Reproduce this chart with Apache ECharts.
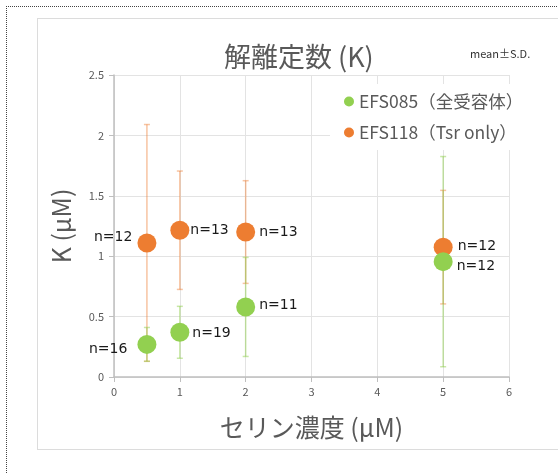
<!DOCTYPE html>
<html>
<head>
<meta charset="utf-8">
<script src="https://cdn.jsdelivr.net/npm/echarts@6/dist/echarts.min.js"></script>
<style>
  html, body { margin: 0; padding: 0; background: #fff; }
  #wrap { position: relative; width: 558px; height: 474px; overflow: hidden; }
  #outer { position: absolute; left: 6px; top: 6px; width: 600px; height: 520px;
           border-left: 1px dotted #444; border-top: 1px dotted #444; }
  #frame { position: absolute; left: 37px; top: 18px; width: 540px; height: 430px;
           border: 1px solid #dcdcdc; background: #fff; }
  #chart { position: absolute; left: 0; top: 0; width: 558px; height: 474px; }
</style>
</head>
<body>
<div id="wrap">
  <div id="outer"></div>
  <div id="frame"></div>
  <div id="chart"></div>
</div>
<script>
// Serine concentration (µM) and dissociation constant K (µM), mean ± S.D.
const concentrations = [0.5, 1, 2, 5];
const efs085Mean = [0.27, 0.37, 0.58, 0.955];
const efs085SD   = [0.14, 0.215, 0.41, 0.87];
const efs085N    = [16, 19, 11, 12];
const efs118Mean = [1.11, 1.215, 1.20, 1.075];
const efs118SD   = [0.98, 0.49, 0.425, 0.47];
const efs118N    = [12, 13, 13, 12];
const xTicks = [0, 1, 2, 3, 4, 5, 6];
const yTicks = [0, 0.5, 1, 1.5, 2, 2.5];

const GREEN = '#92D050';
const ORANGE = '#ED7D31';
const FONT = '"Noto Sans CJK JP", "Noto Sans", sans-serif';
const LABEL_FONT = '"DejaVu Sans", sans-serif';

// where each "n=" label sits next to its marker
const labelPlace085 = [
  { position: 'left',  distance: 10, offset: [0, 5] },
  { position: 'right', distance: 3,  offset: [0, 1] },
  { position: 'right', distance: 4,  offset: [0, -2] },
  { position: 'right', distance: 4,  offset: [0, 5] }
];
const labelPlace118 = [
  { position: 'left',  distance: 5, offset: [0, -6] },
  { position: 'right', distance: 1, offset: [0, 0] },
  { position: 'right', distance: 4, offset: [0, 0] },
  { position: 'right', distance: 5, offset: [0, -1] }
];

function points(means, ns, places) {
  return concentrations.map((x, i) => ({
    value: [x, means[i]],
    label: Object.assign({ show: true, formatter: 'n=' + ns[i] }, places[i])
  }));
}

function ranges(means, sds) {
  return concentrations.map((x, i) => [x, means[i] - sds[i], means[i] + sds[i]]);
}

function errorBars(color) {
  return function (params, api) {
    const x = api.value(0);
    const top = api.coord([x, api.value(2)]);
    const bot = api.coord([x, api.value(1)]);
    const w = 3;
    const style = { stroke: color, lineWidth: 1.5 };
    return {
      type: 'group',
      children: [
        { type: 'line', shape: { x1: top[0], y1: top[1], x2: bot[0], y2: bot[1] }, style: style },
        { type: 'line', shape: { x1: top[0] - w, y1: top[1], x2: top[0] + w, y2: top[1] }, style: style },
        { type: 'line', shape: { x1: bot[0] - w, y1: bot[1], x2: bot[0] + w, y2: bot[1] }, style: style }
      ]
    };
  };
}

const chart = echarts.init(document.getElementById('chart'));
chart.setOption({
  animation: false,
  textStyle: { fontFamily: FONT },
  title: [
    { text: '解離定数 (K)', left: 219, top: 38,
      textStyle: { fontSize: 27, fontWeight: 'normal', color: '#595959', fontFamily: FONT } },
    { text: 'mean±S.D.', left: 465, top: 43,
      textStyle: { fontSize: 11, fontWeight: 'normal', color: '#333', fontFamily: FONT } }
  ],
  legend: {
    orient: 'vertical',
    left: 330, top: 84,
    padding: [8, 6, 8, 14],
    backgroundColor: '#fff',
    itemWidth: 10, itemHeight: 10, itemGap: 12,
    icon: 'circle',
    textStyle: { fontSize: 17.5, lineHeight: 19, color: '#595959', fontFamily: FONT },
    data: ['EFS085（全受容体）', 'EFS118（Tsr only）']
  },
  grid: { left: 114, right: 49, top: 75, bottom: 97 },
  xAxis: {
    type: 'value', min: xTicks[0], max: xTicks[xTicks.length - 1], interval: 1,
    name: 'セリン濃度 (μM)', nameLocation: 'middle', nameGap: 38,
    nameTextStyle: { fontSize: 25, color: '#595959', fontFamily: FONT },
    axisLine: { show: true, lineStyle: { color: '#bfbfbf', width: 1.5 } },
    axisTick: { show: true, length: 5, lineStyle: { color: '#bfbfbf' } },
    axisLabel: { fontSize: 11, color: '#595959', margin: 9 },
    splitLine: { show: true, lineStyle: { color: '#e3e3e3' } }
  },
  yAxis: {
    type: 'value', min: yTicks[0], max: yTicks[yTicks.length - 1], interval: 0.5,
    name: 'K (μM)', nameLocation: 'middle', nameGap: 40,
    nameTextStyle: { fontSize: 25, color: '#595959', fontFamily: FONT },
    axisLine: { show: true, lineStyle: { color: '#bfbfbf', width: 1.5 } },
    axisTick: { show: true, length: 5, lineStyle: { color: '#bfbfbf' } },
    axisLabel: { fontSize: 11, color: '#595959', margin: 10 },
    splitLine: { show: true, lineStyle: { color: '#e3e3e3' } }
  },
  series: [
    {
      type: 'custom', name: 'EFS118 SD', renderItem: errorBars('rgba(237,125,49,0.45)'),
      data: ranges(efs118Mean, efs118SD), z: 2, silent: true,
      encode: { x: 0, y: [1, 2] }
    },
    {
      type: 'custom', name: 'EFS085 SD', renderItem: errorBars('rgba(146,208,80,0.5)'),
      data: ranges(efs085Mean, efs085SD), z: 2, silent: true,
      encode: { x: 0, y: [1, 2] }
    },
    {
      type: 'scatter', name: 'EFS118（Tsr only）', symbolSize: 19, z: 3,
      itemStyle: { color: ORANGE, opacity: 1 },
      label: { fontSize: 14, color: '#1a1a1a', fontFamily: LABEL_FONT },
      data: points(efs118Mean, efs118N, labelPlace118)
    },
    {
      type: 'scatter', name: 'EFS085（全受容体）', symbolSize: 19, z: 4,
      itemStyle: { color: GREEN, opacity: 1 },
      label: { fontSize: 14, color: '#1a1a1a', fontFamily: LABEL_FONT },
      data: points(efs085Mean, efs085N, labelPlace085)
    }
  ]
});
</script>
</body>
</html>
